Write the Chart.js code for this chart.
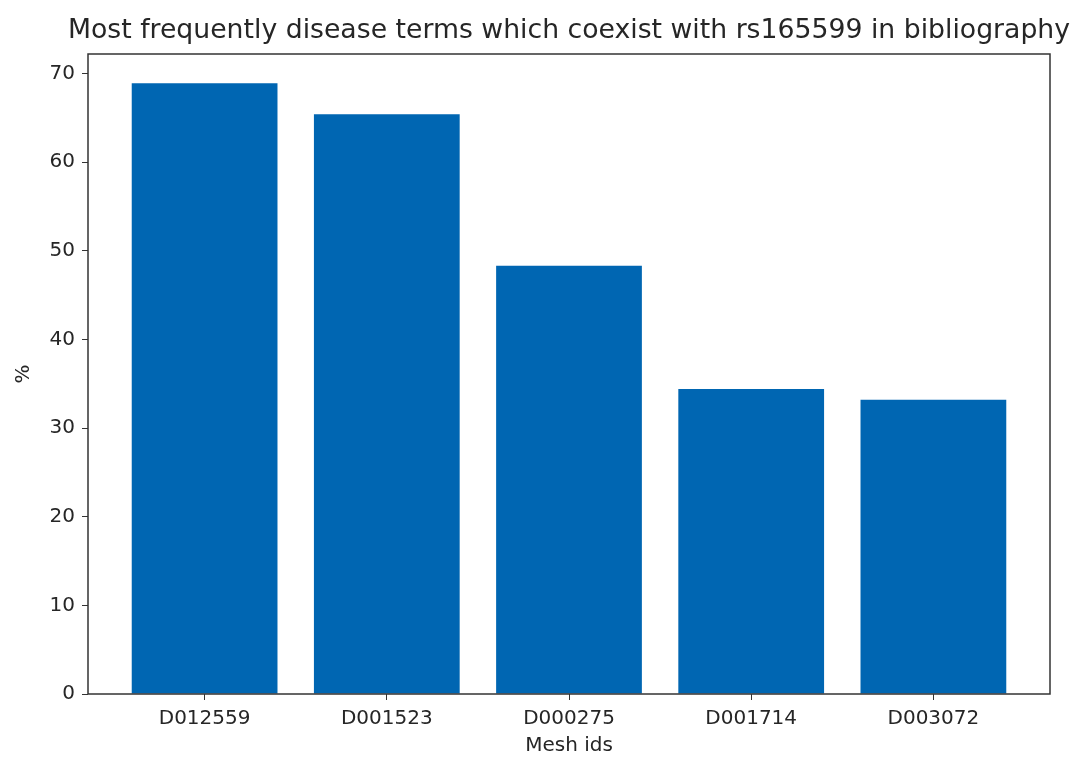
<!DOCTYPE html>
<html lang="en">

<head>
    <meta charset="UTF-8">
    <title>Mesh ids</title>
    <script src="https://cdn.jsdelivr.net/npm/chart.js"></script>
    <style>
        html, body { margin: 0; padding: 0; background: #fff; }
        #grafico { width: 1077px; height: 760px; }
    </style>
</head>

<body>
    <div id="grafico"><canvas id="myChart"></canvas></div>

<script>
    // dados
    const meshIds = ['D012559', 'D001523', 'D000275', 'D001714', 'D003072'];
    const percentuais = [68.9, 65.4, 48.3, 34.4, 33.2];
    const ticksY = [0, 10, 20, 30, 40, 50, 60, 70];
    const titulo = 'Most frequently disease terms which coexist with rs165599 in bibliography';

    const corBarra = 'rgb(0, 102, 178)';
    const corTexto = '#262626';
    Chart.defaults.font.family = "'DejaVu Sans', sans-serif";
    Chart.defaults.color = corTexto;

    // moldura em volta da area do grafico + titulo centrado sobre ela
    const moldura = {
        id: 'moldura',
        afterDraw(chart) {
            const a = chart.chartArea;
            const ctx = chart.ctx;
            ctx.save();
            ctx.strokeStyle = '#333';
            ctx.lineWidth = 1.5;
            ctx.strokeRect(a.left, a.top, a.right - a.left, a.bottom - a.top);
            ctx.fillStyle = corTexto;
            ctx.font = "26.7px 'DejaVu Sans', sans-serif";
            ctx.textAlign = 'center';
            ctx.textBaseline = 'middle';
            ctx.fillText(titulo, (a.left + a.right) / 2, 31);
            ctx.restore();
        }
    };

    const pontos = percentuais.map(function (v, i) { return { x: i, y: v }; });

    const config = {
        type: 'bar',
        data: {
            datasets: [{
                label: '%',
                data: pontos,
                backgroundColor: corBarra,
                borderWidth: 0,
                categoryPercentage: 1,
                barPercentage: 0.8
            }]
        },
        options: {
            responsive: true,
            maintainAspectRatio: false,
            animation: false,
            layout: { padding: { left: 8, right: 27, top: 54, bottom: 2 } },
            plugins: {
                legend: { display: false },
                tooltip: { enabled: false },
                title: { display: false }
            },
            scales: {
                x: {
                    type: 'linear',
                    min: -0.64,
                    max: 4.64,
                    offset: false,
                    afterBuildTicks: function (scale) {
                        scale.ticks = meshIds.map(function (m, i) { return { value: i }; });
                    },
                    afterFit: function (scale) { scale.height = 64; },
                    ticks: {
                        autoSkip: false,
                        maxRotation: 0,
                        font: { size: 20 },
                        padding: 7,
                        callback: function (v) { return meshIds[v]; }
                    },
                    grid: { display: true, offset: false, drawOnChartArea: false, tickLength: 6, color: '#333' },
                    border: { display: false },
                    title: { display: true, text: 'Mesh ids', font: { size: 20 }, padding: { top: 0, bottom: 0 } }
                },
                y: {
                    min: 0,
                    max: 72.2,
                    afterBuildTicks: function (scale) {
                        scale.ticks = ticksY.map(function (v) { return { value: v }; });
                    },
                    afterFit: function (scale) { scale.width = 80; },
                    ticks: { font: { size: 20 }, padding: 7 },
                    grid: { display: true, drawOnChartArea: false, tickLength: 6, color: '#333' },
                    border: { display: false },
                    title: { display: true, text: '%', font: { size: 20 }, padding: { bottom: 0 } }
                }
            }
        },
        plugins: [moldura]
    };

    const myChart = new Chart(document.getElementById('myChart'), config);
</script>
</body>

</html>
